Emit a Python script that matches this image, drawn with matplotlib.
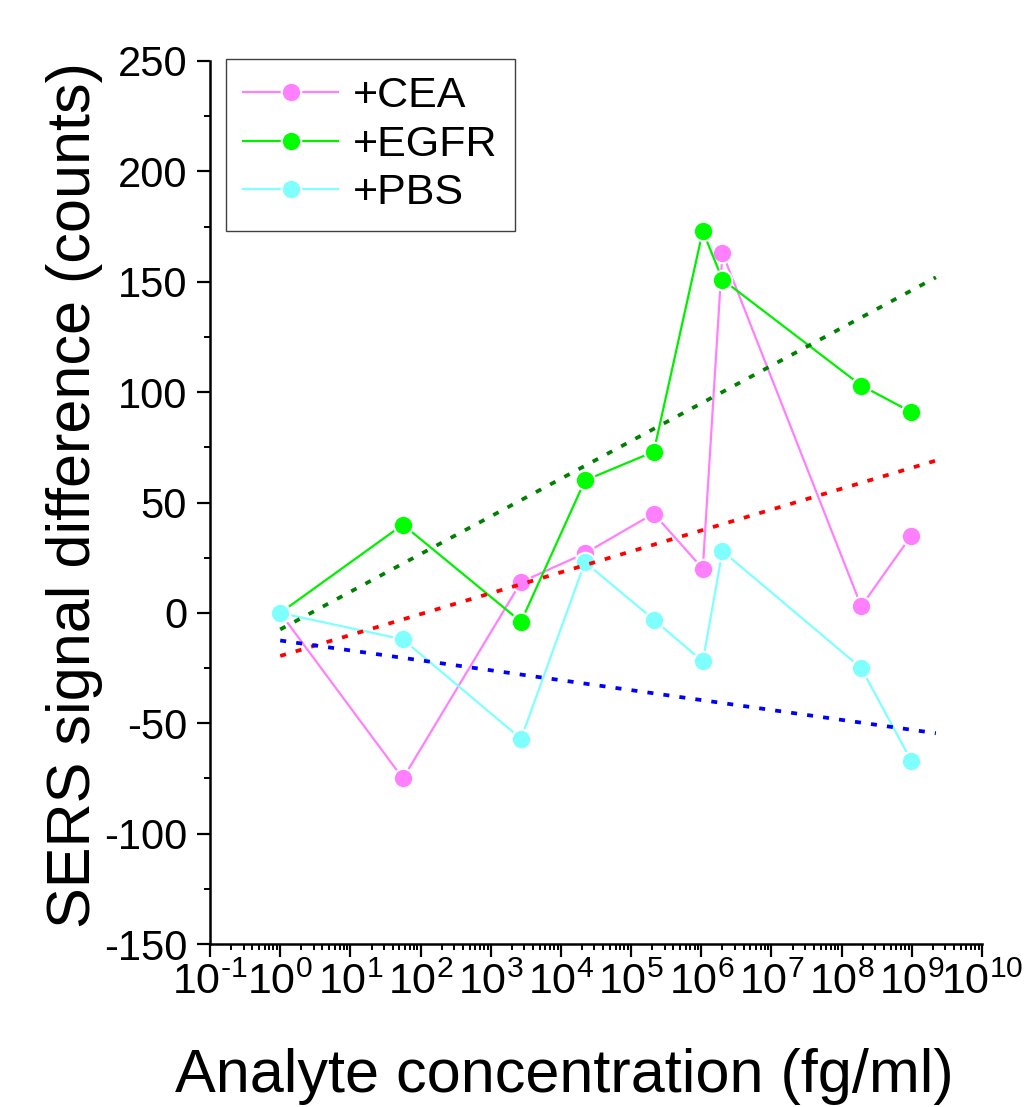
import matplotlib
matplotlib.use("Agg")
import matplotlib.pyplot as plt
from matplotlib.ticker import LogLocator, MultipleLocator, FixedLocator

plt.rcParams['font.family'] = ['Liberation Sans', 'DejaVu Sans']
plt.rcParams['mathtext.fontset'] = 'custom'
plt.rcParams['mathtext.rm'] = 'Liberation Sans'
plt.rcParams['mathtext.it'] = 'Liberation Sans'
plt.rcParams['axes.unicode_minus'] = False

# concentrations (fg/ml)
conc = [1, 56, 2.7e3, 2.2e4, 2.1e5, 1.05e6, 2.0e6, 1.9e8, 9.8e8]
cea = [0, -75, 14, 27, 45, 20, 163, 3, 35]
egfr = [0, 40, -4, 60, 73, 173, 151, 103, 91]
pbs = [0, -12, -57, 23, -3, -22, 28, -25, -67]

# linear fit lines (end points)
fit_x = [1, 2.2e9]
fit_egfr = [-7.5, 152]
fit_cea = [-19.5, 69]
fit_pbs = [-12.5, -54.5]

x_exponents = list(range(-1, 11))

fig = plt.figure(figsize=(10.25, 11.07), dpi=100)
ax = fig.add_axes([0.2049, 0.1472, 0.7532, 0.7977])

line_kw = dict(lw=1.6, marker='o', ms=14, mec='white', mew=1.5)
ax.plot(conc, cea, color='#ff80ff', label='+CEA', **line_kw)
ax.plot(conc, egfr, color='#00f000', mfc='#00ff00', label='+EGFR', **line_kw)
ax.plot(conc, pbs, color='#80ffff', label='+PBS', **line_kw)

fit_kw = dict(lw=2.7, ls=(0, (1.6, 2.7)), dash_capstyle='butt')
ax.plot(fit_x, fit_egfr, color='#008000', **fit_kw)
ax.plot(fit_x, fit_cea, color='#ff0000', **fit_kw)
ax.plot(fit_x, fit_pbs, color='#0000ff', **fit_kw)

ax.set_xscale('log')
ax.set_xlim(1e-1, 1e10)
ax.set_ylim(-150, 250)

ax.xaxis.set_major_locator(FixedLocator([10.0**k for k in x_exponents]))
ax.xaxis.set_minor_locator(LogLocator(base=10, subs=range(2, 10), numticks=30))
ax.set_xticklabels([r'$10^{\text{%d}}$' % k for k in x_exponents])
ax.yaxis.set_major_locator(MultipleLocator(50))
ax.yaxis.set_minor_locator(MultipleLocator(25))

for s in ['top', 'right']:
    ax.spines[s].set_visible(False)
for s in ['left', 'bottom']:
    ax.spines[s].set_linewidth(1.8)

ax.tick_params(which='major', direction='out', length=9.5, width=1.6)
ax.tick_params(which='minor', direction='out', length=4.5, width=1.4)
ax.tick_params(axis='y', which='major', pad=7, labelsize=30)
ax.tick_params(axis='x', which='major', pad=4, labelsize=31)

leg = ax.legend(loc='upper left', bbox_to_anchor=(0.0207, 1.0023), borderaxespad=0,
                fontsize=31, frameon=True, fancybox=False, framealpha=1,
                edgecolor='#404040', handlelength=2.2, handletextpad=0.35,
                labelspacing=0.2, borderpad=0.4, numpoints=1)
leg.get_frame().set_linewidth(1.0)

fig.text(0.073, 0.553, 'SERS signal difference (counts)', rotation=90,
         ha='center', va='center', fontsize=44)
fig.text(0.551, 0.028, 'Analyte concentration (fg/ml)', ha='center', va='center',
         fontsize=44)

fig.savefig('out.png', dpi=100)
